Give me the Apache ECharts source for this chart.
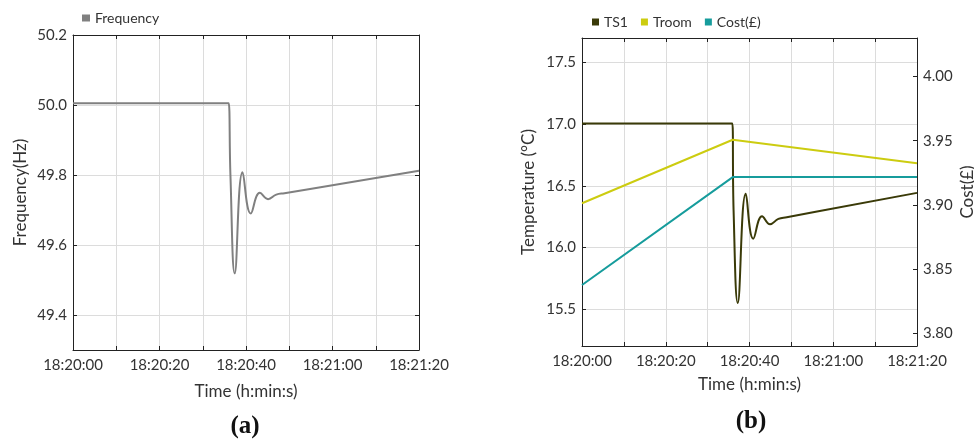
<!DOCTYPE html>
<html>
<head>
<meta charset="utf-8">
<script src="https://cdn.jsdelivr.net/npm/echarts@6/dist/echarts.min.js"></script>
<style>
  html, body { margin: 0; padding: 0; background: #fff; }
  #chart { width: 974px; height: 439px; }
</style>
</head>
<body>
<div id="chart"></div>
<script>
// Seconds after 18:20:00
const freqTime = [0, 35.7, 36.0, 36.4, 37.4, 39.2, 41.1, 43.2, 45.1, 47.0, 48.9, 80];
const freqHz   = [50.005, 50.005, 50.005, 49.80, 49.519, 49.808, 49.69, 49.749, 49.731, 49.744, 49.748, 49.812];

const ts1Time = [0, 35.6, 35.9, 36.2, 37.2, 39.1, 40.9, 43.0, 44.9, 46.9, 48.9, 80];
const ts1Temp = [17.005, 17.005, 17.005, 16.3, 15.549, 16.435, 16.071, 16.253, 16.188, 16.232, 16.245, 16.443];

const troomTime = [0, 36, 80];
const troomTemp = [16.359, 16.874, 16.684];

const costTime = [0, 36, 80];
const costGBP  = [3.8375, 3.9216, 3.9216];

const timeTicks = [0, 20, 40, 60, 80];
const freqTicks = [49.4, 49.6, 49.8, 50.0, 50.2];
const tempTicks = [15.5, 16.0, 16.5, 17.0, 17.5];
const costTicks = [3.80, 3.85, 3.90, 3.95, 4.00];

const FONT = 'Lato, "Open Sans", sans-serif';
const TXT = '#333';
const AXIS = '#222';
const GRIDC = '#dcdcdc';
const LABEL_SIZE = 15;
const NAME_SIZE = 17;

function clock(sec) {
  const t = 18 * 3600 + 20 * 60 + Math.round(sec);
  const h = Math.floor(t / 3600), m = Math.floor((t % 3600) / 60), s = t % 60;
  const p = n => String(n).padStart(2, '0');
  return h + ':' + p(m) + ':' + p(s);
}
const pairs = (xs, ys) => xs.map((x, i) => [x, ys[i]]);

function timeAxis(gridIndex, withName, nameGap) {
  return {
    type: 'value', gridIndex, min: 0, max: 80, interval: 10,
    axisLine: { show: true, lineStyle: { color: AXIS, width: 1 } },
    axisTick: { show: true, inside: true, length: 4, lineStyle: { color: AXIS } },
    axisLabel: {
      show: withName, color: TXT, fontFamily: FONT, fontSize: LABEL_SIZE, margin: 8,
      customValues: timeTicks,
      formatter: v => clock(v)
    },
    splitLine: { show: withName, lineStyle: { color: GRIDC } },
    name: withName ? 'Time (h:min:s)' : '',
    nameLocation: 'middle', nameGap: nameGap || 32,
    nameTextStyle: { color: TXT, fontFamily: FONT, fontSize: NAME_SIZE }
  };
}
function topAxis(gridIndex) {
  const a = timeAxis(gridIndex, false);
  a.position = 'top';
  a.axisLabel = { show: false };
  a.splitLine = { show: false };
  return a;
}
function valAxis(gridIndex, opts) {
  return {
    type: 'value', gridIndex, min: opts.min, max: opts.max,
    position: opts.position || 'left',
    axisLine: { show: true, onZero: false, lineStyle: { color: AXIS, width: 1 } },
    axisTick: { show: true, inside: true, length: 4, customValues: opts.ticks, lineStyle: { color: AXIS } },
    axisLabel: {
      show: opts.labels !== false, color: TXT, fontFamily: FONT, fontSize: LABEL_SIZE, margin: 6,
      customValues: opts.ticks,
      formatter: v => v.toFixed(opts.digits)
    },
    splitLine: { show: !!opts.split, lineStyle: { color: GRIDC } },
    name: opts.name || '',
    nameLocation: 'middle', nameGap: opts.nameGap || 40,
    nameTextStyle: { color: TXT, fontFamily: FONT, fontSize: NAME_SIZE }
  };
}

const legendText = { color: TXT, fontFamily: FONT, fontSize: 14 };

const chart = echarts.init(document.getElementById('chart'), null, { renderer: 'canvas' });
chart.setOption({
  backgroundColor: '#fff',
  animation: false,
  textStyle: { fontFamily: FONT },
  grid: [
    { left: 73, right: 555, top: 35, bottom: 89, outerBoundsMode: 'none' },
    { left: 582, right: 57, top: 38, bottom: 93, outerBoundsMode: 'none' }
  ],
  legend: [
    {
      left: 77, top: 6, icon: 'rect', itemWidth: 8, itemHeight: 7, itemGap: 13,
      textStyle: legendText, data: ['Frequency']
    },
    {
      left: 587, top: 10, icon: 'rect', itemWidth: 7, itemHeight: 7, itemGap: 13,
      textStyle: legendText, data: ['TS1', 'Troom', 'Cost(£)']
    }
  ],
  xAxis: [timeAxis(0, true, 33), topAxis(0), timeAxis(1, true, 30), topAxis(1)],
  yAxis: [
    valAxis(0, { min: 49.3, max: 50.2, ticks: freqTicks, digits: 1, split: true, name: 'Frequency(Hz)', nameGap: 44 }),
    valAxis(0, { min: 49.3, max: 50.2, ticks: freqTicks, digits: 1, position: 'right', labels: false }),
    valAxis(1, { min: 15.2, max: 17.7, ticks: tempTicks, digits: 1, split: true, name: 'Temperature (°C)', nameGap: 45 }),
    valAxis(1, { min: 3.79, max: 4.03, ticks: costTicks, digits: 2, position: 'right', name: 'Cost(£)', nameGap: 42 })
  ],
  series: [
    {
      name: 'Frequency', type: 'line', xAxisIndex: 0, yAxisIndex: 0,
      data: pairs(freqTime, freqHz), showSymbol: false, smooth: 0.45,
      itemStyle: { color: '#808080' }, lineStyle: { color: '#808080', width: 2 }
    },
    {
      name: 'TS1', type: 'line', xAxisIndex: 2, yAxisIndex: 2,
      data: pairs(ts1Time, ts1Temp), showSymbol: false, smooth: 0.45,
      itemStyle: { color: '#3a3a08' }, lineStyle: { color: '#3a3a08', width: 2 }
    },
    {
      name: 'Troom', type: 'line', xAxisIndex: 2, yAxisIndex: 2,
      data: pairs(troomTime, troomTemp), showSymbol: false,
      itemStyle: { color: '#cccc10' }, lineStyle: { color: '#cccc10', width: 2 }
    },
    {
      name: 'Cost(£)', type: 'line', xAxisIndex: 2, yAxisIndex: 3,
      data: pairs(costTime, costGBP), showSymbol: false,
      itemStyle: { color: '#169c9c' }, lineStyle: { color: '#169c9c', width: 2 }
    }
  ],
  graphic: [
    { type: 'text', x: 245, y: 427, style: { text: '(a)', font: 'bold 25px "Liberation Serif", serif', fill: '#111', align: 'center', verticalAlign: 'middle' } },
    { type: 'text', x: 751, y: 422, style: { text: '(b)', font: 'bold 25px "Liberation Serif", serif', fill: '#111', align: 'center', verticalAlign: 'middle' } }
  ]
});
</script>
</body>
</html>
